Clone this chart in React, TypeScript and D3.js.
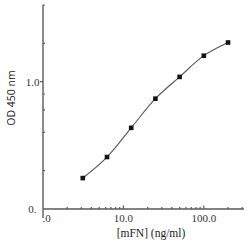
import * as d3 from "d3";

// standard curve
const concentrations = [3.125, 6.25, 12.5, 25, 50, 100, 200];
const odValues = [0.175, 0.256, 0.434, 0.735, 1.09, 1.6, 2.03];

const xMinorTicks = [2, 3, 4, 5, 6, 7, 8, 9, 20, 30, 40, 50, 60, 70, 80, 90, 200, 300];
const xMajorTicks = [10, 100];
const yMinorTicks = [0.2, 0.4, 0.6, 0.8, 2, 4];
const xTickLabels = ["1.0", "10.0", "100.0"];
const xLabelValues = [1, 10, 100];

const width = 250;
const height = 245;
const axisColor = "#5a5a5a";

export default function App() {
  const x = d3.scaleLog().domain([1, 316]).range([43, 244]);
  const y = d3.scaleLog().domain([0.1, 4]).range([209, 5]);

  const pts: [number, number][] = concentrations.map((c, i) => [x(c), y(odValues[i])]);
  const line = d3.line().curve(d3.curveCatmullRom.alpha(0.5))(pts) ?? "";

  const x0 = x(1);
  const y0 = y(0.1);

  return (
    <svg
      width={width}
      height={height}
      style={{ position: "absolute", left: 0, top: 0, background: "#fff" }}
      fontFamily="'Liberation Serif', 'Times New Roman', serif"
    >
      {/* tick labels */}
      {xTickLabels.map((lab, i) => (
        <text
          key={lab}
          x={i === 0 ? x0 - 6 : x(xLabelValues[i])}
          y={222}
          fontSize={11}
          fill="#333"
          textAnchor={i === 0 ? "start" : "middle"}
        >
          {lab}
        </text>
      ))}
      <text x={x0 - 3.5} y={86} fontSize={11} fill="#333" textAnchor="end">
        1.0
      </text>
      <text x={x0 - 1} y={213} fontSize={11} fill="#333" textAnchor="end">
        0.1
      </text>
      {/* corner mask hiding the overlapping digits */}
      <rect x={x0 - 6.4} y={203} width={6.4} height={21} fill="#fff" />

      {/* axes */}
      <line x1={x0} x2={x0} y1={y(4)} y2={y0 + 9} stroke={axisColor} strokeWidth={1.4} />
      <line x1={x0} x2={x(316)} y1={y0} y2={y0} stroke={axisColor} strokeWidth={1.4} />

      {/* x ticks */}
      {xMinorTicks.map((t) => (
        <line key={"xm" + t} x1={x(t)} x2={x(t)} y1={y0} y2={y0 - 2} stroke={axisColor} strokeWidth={1.2} />
      ))}
      {xMajorTicks.map((t) => (
        <line key={"xM" + t} x1={x(t)} x2={x(t)} y1={y0} y2={y0 - 3.5} stroke={axisColor} strokeWidth={1.2} />
      ))}

      {/* y ticks */}
      {yMinorTicks.map((t) => (
        <line key={"ym" + t} x1={x0} x2={x0 + 2} y1={y(t)} y2={y(t)} stroke={axisColor} strokeWidth={1.2} />
      ))}
      <line x1={x0 - 3} x2={x0} y1={y(1)} y2={y(1)} stroke={axisColor} strokeWidth={1.2} />

      {/* curve */}
      <path d={line} fill="none" stroke="#555" strokeWidth={1.1} />
      {pts.map(([px, py], i) => (
        <rect key={i} x={px - 2.3} y={py - 2.3} width={4.6} height={4.6} fill="#111" />
      ))}

      {/* axis titles */}
      <text x={151} y={237} fontSize={11.5} fill="#222" textAnchor="middle">
        [mFN] (ng/ml)
      </text>
      <text
        transform="translate(15,98) rotate(-90)"
        fontSize={10.5}
        fill="#222"
        textAnchor="middle"
        fontFamily="'Open Sans', 'DejaVu Sans', sans-serif"
      >
        OD 450 nm
      </text>
    </svg>
  );
}
